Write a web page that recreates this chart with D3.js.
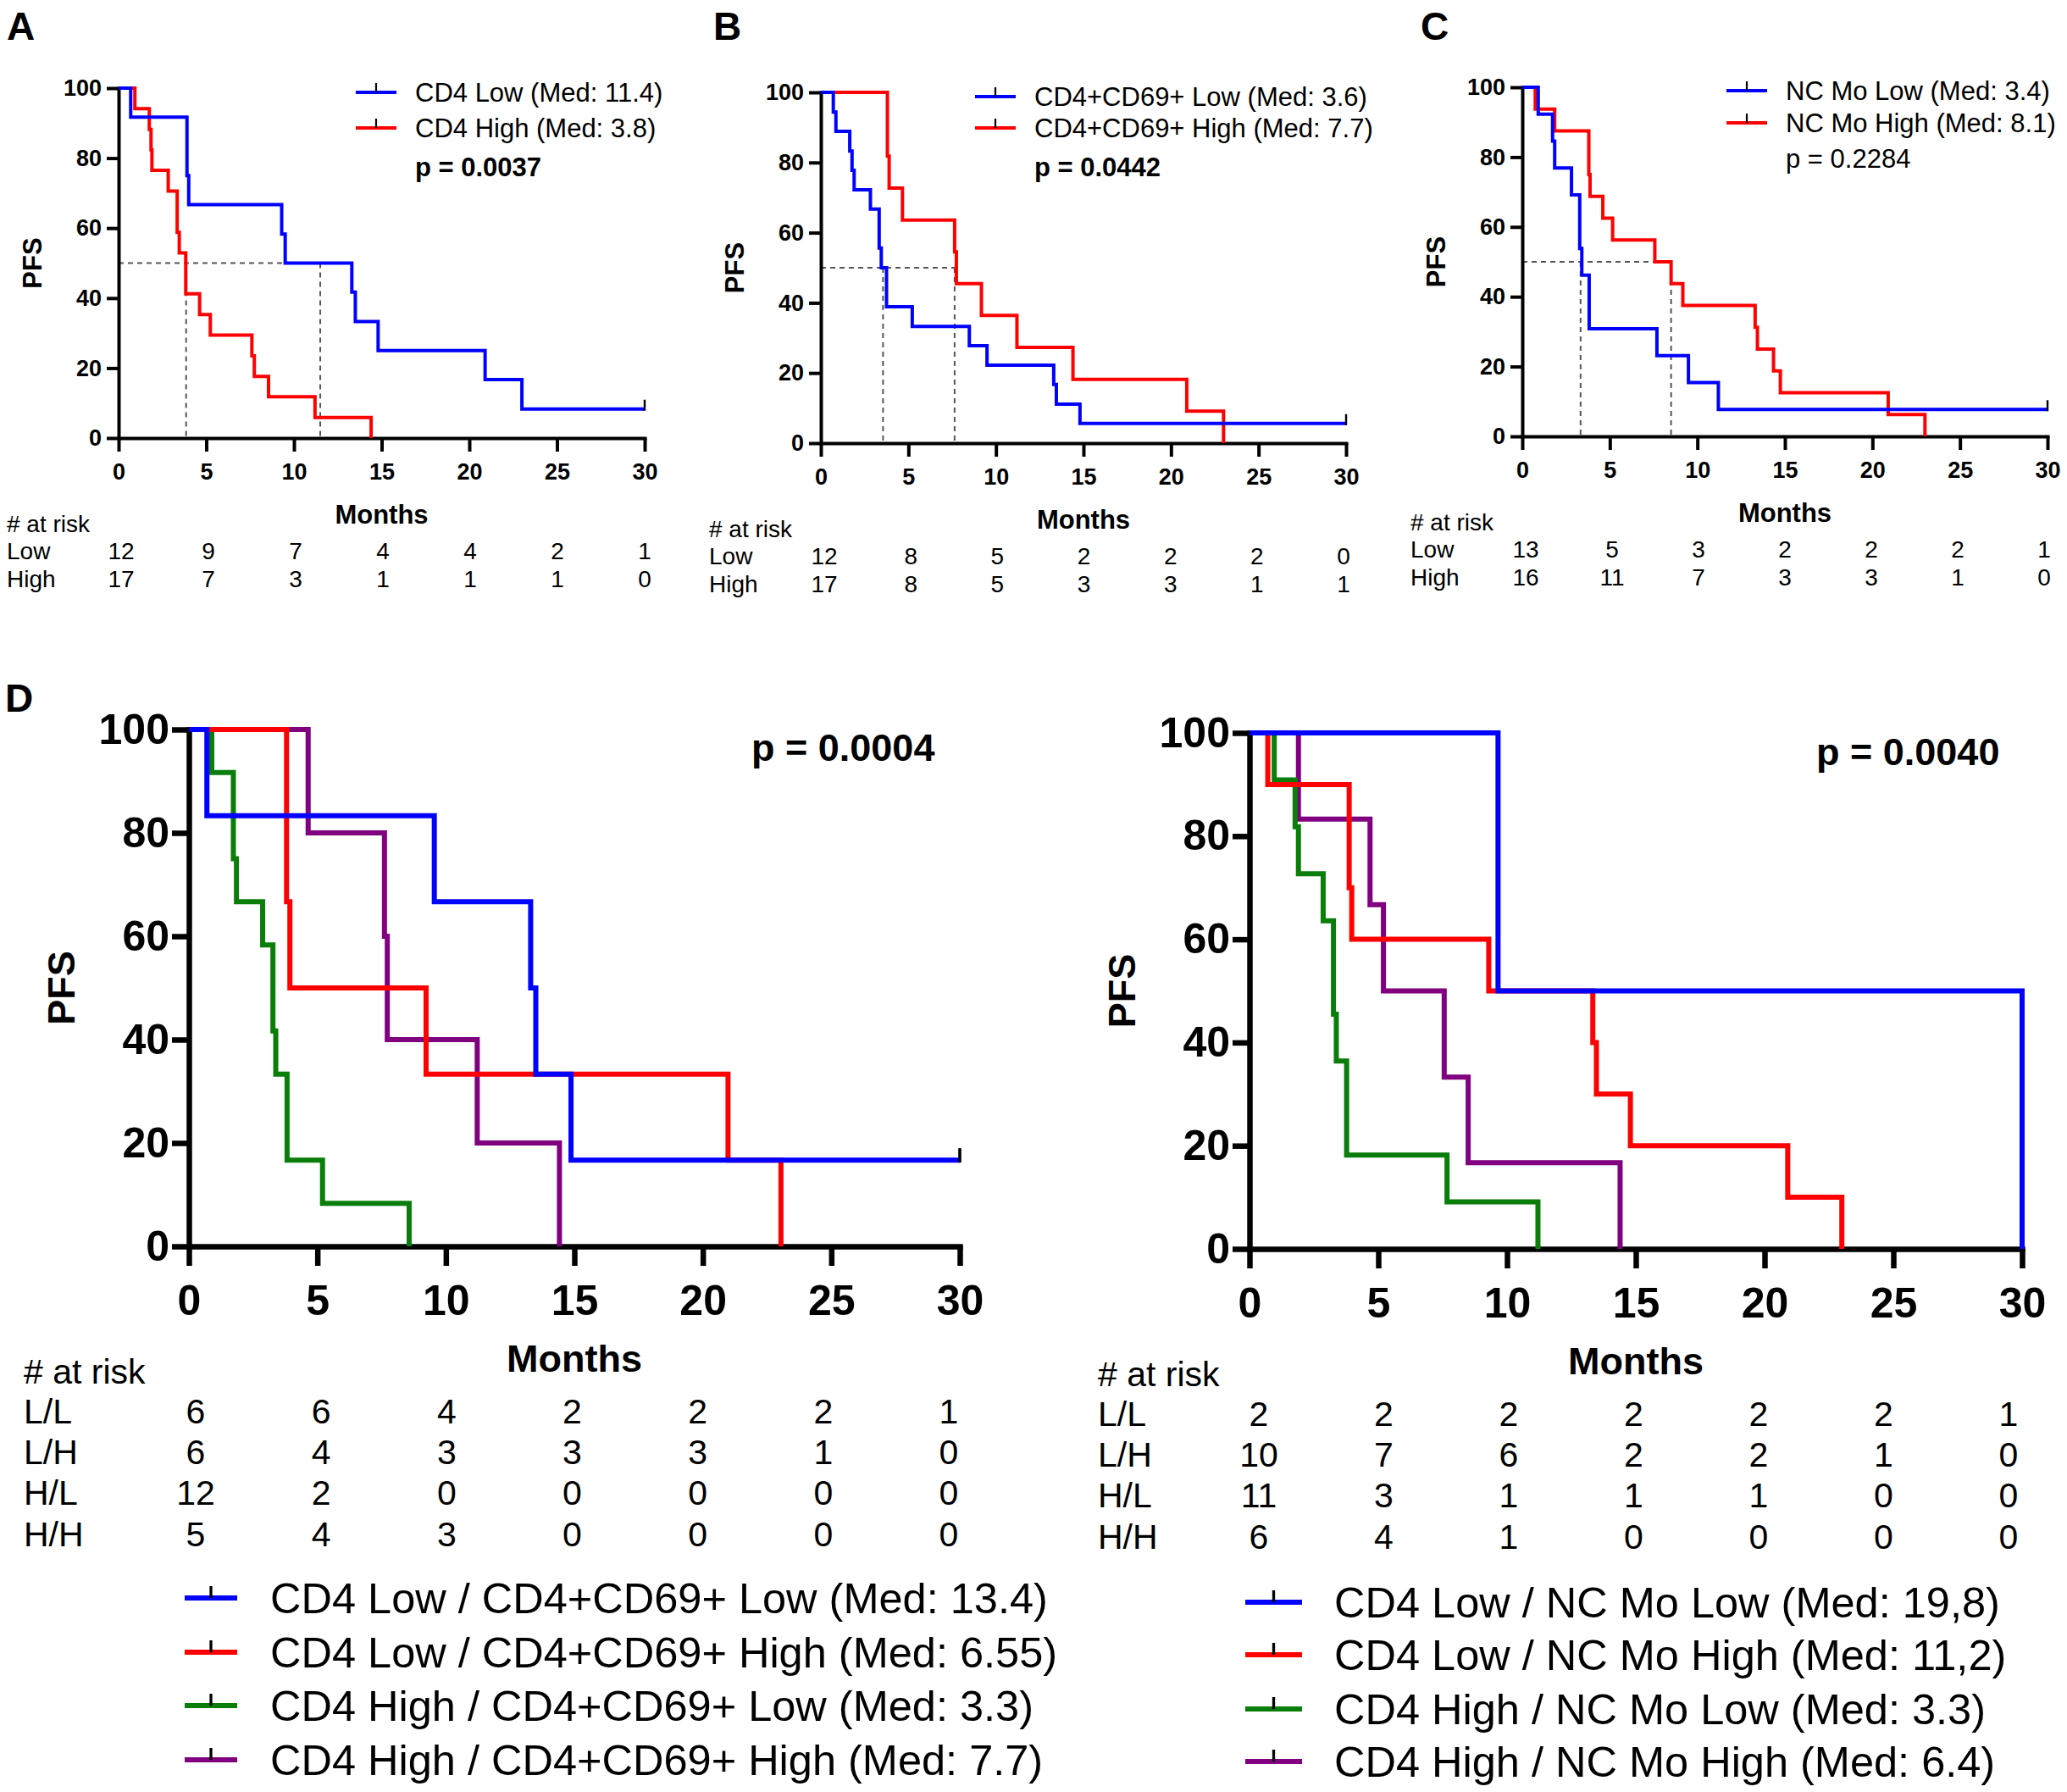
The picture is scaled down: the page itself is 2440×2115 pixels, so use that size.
<!DOCTYPE html>
<html>
<head>
<meta charset="utf-8">
<script src="https://cdn.jsdelivr.net/npm/d3@7"></script>
<style>
  body { margin: 0; background: #fff; }
  svg { display: block; }
  text { font-family: "Liberation Sans", Arial, Helvetica, sans-serif; fill: #000; }
</style>
</head>
<body>
<div id="fig"></div>
<script>
// PFS Kaplan-Meier panels A-D ([month, % PFS])

var monthTicks = [0, 5, 10, 15, 20, 25, 30];
var pfsTicks = [0, 20, 40, 60, 80, 100];

// A: CD4
var cd4Low = [[0,100],[0.69,91.7],[3.9,75],[4.0,66.7],[9.3,58.3],[9.5,50],[13.3,41.7],[13.5,33.3],[14.8,25],[20.9,16.7],[23.0,8.3],[30,8.3]];
var cd4High = [[0,100],[0.93,94.1],[1.75,88.2],[1.85,82.4],[1.9,76.5],[2.83,70.6],[3.34,58.8],[3.46,52.9],[3.83,41.2],[4.62,35.3],[5.23,29.4],[7.6,23.5],[7.74,17.6],[8.55,11.8],[11.2,5.9],[14.4,0]];
var cd4Medians = [3.85, 11.5];
var cd4RiskLow = [12, 9, 7, 4, 4, 2, 1];
var cd4RiskHigh = [17, 7, 3, 1, 1, 1, 0];

// B: CD4+CD69+
var cd69Low = [[0,100],[0.71,94.4],[0.86,88.9],[1.65,83.3],[1.78,77.8],[1.9,72.2],[2.83,66.7],[3.33,55.6],[3.45,50],[3.75,38.9],[5.22,33.3],[8.48,27.8],[9.49,22.2],[13.3,16.7],[13.45,11.1],[14.8,5.6],[30,5.6]];
var cd69High = [[0,100],[3.8,81.8],[3.9,72.7],[4.66,63.6],[7.64,54.5],[7.74,45.5],[9.17,36.4],[11.2,27.3],[14.4,18.2],[20.9,9.1],[23.0,0]];
var cd69Medians = [3.55, 7.64];
var cd69RiskLow = [12, 8, 5, 2, 2, 2, 0];
var cd69RiskHigh = [17, 8, 5, 3, 3, 1, 1];

// C: NC Mo
var ncmoLow = [[0,100],[0.91,92.3],[1.73,84.6],[1.85,76.9],[2.81,69.2],[3.28,53.8],[3.4,46.2],[3.82,30.8],[7.69,23.1],[9.49,15.4],[11.2,7.7],[30,7.7]];
var ncmoHigh = [[0,100],[0.74,93.75],[1.85,87.5],[3.8,75],[3.87,68.75],[4.6,62.5],[5.16,56.25],[7.57,50],[8.5,43.75],[9.17,37.5],[13.3,31.25],[13.43,25],[14.35,18.75],[14.74,12.5],[20.9,6.25],[23.0,0]];
var ncmoMedians = [3.33, 8.5];
var ncmoRiskLow = [13, 5, 3, 2, 2, 2, 1];
var ncmoRiskHigh = [16, 11, 7, 3, 3, 1, 0];

// D left: CD4 / CD4+CD69+
var dlLL = [[0,100],[0.7,83.3],[9.55,66.7],[13.3,50],[13.5,33.3],[14.87,16.7],[30,16.7]];
var dlLH = [[0,100],[3.8,66.7],[3.93,50],[9.23,33.3],[20.98,16.7],[23.04,0]];
var dlHL = [[0,100],[0.89,91.7],[1.73,75],[1.85,66.7],[2.87,58.3],[3.27,41.7],[3.38,33.3],[3.82,16.7],[5.2,8.3],[8.57,0]];
var dlHH = [[0,100],[4.64,80],[7.61,60],[7.72,40],[11.22,20],[14.42,0]];
var dlRisk = [[6,6,4,2,2,2,1],[6,4,3,3,3,1,0],[12,2,0,0,0,0,0],[5,4,3,0,0,0,0]];

// D right: CD4 / NC Mo
var drLL = [[0,100],[9.65,50],[30,0]];
var drLH = [[0,100],[0.71,90],[3.87,70],[3.97,60],[9.29,50],[13.33,40],[13.47,30],[14.79,20],[20.9,10],[23.0,0]];
var drHL = [[0,100],[0.96,90.9],[1.77,81.8],[1.9,72.7],[2.86,63.6],[3.26,45.5],[3.37,36.4],[3.77,18.2],[7.67,9.1],[11.2,0]];
var drHH = [[0,100],[1.9,83.3],[4.68,66.7],[5.2,50],[7.56,33.3],[8.49,16.7],[14.39,0]];
var drRisk = [[2,2,2,2,2,2,1],[10,7,6,2,2,1,0],[11,3,1,1,1,0,0],[6,4,1,0,0,0,0]];

var riskLabels2 = ['Low', 'High'];
var riskLabels4 = ['L/L', 'L/H', 'H/L', 'H/H'];

var BLUE = '#0000ff', RED = '#ff0000', GREEN = '#0a7d0a', PURPLE = '#800080';

var svg = d3.select('#fig').append('svg')
    .attr('width', 2440)
    .attr('height', 2115);

var small = {
    axisW: 4, curveW: 4, tick: 16, ytick: 14, xpad: 14, ypad: 6,
    tickFont: 27, titleFont: 31, riskFont: 28, legFont: 31, pFont: 31,
    monthsDy: 101, riskHeadDy: 111, riskRowDy: [143, 176], pfsDx: -102,
    riskDx: -132, censor: 11
};
var big = {
    axisW: 6.5, curveW: 6, tick: 23, ytick: 20, xpad: 22, ypad: 3,
    tickFont: 50, titleFont: 45, riskFont: 41, legFont: 50.5, pFont: 45,
    monthsDy: 148, riskHeadDy: 162, riskRowDy: [209, 257, 305, 354], pfsDx: -151,
    censor: 14
};

var panels = [
    { L: 140, R: 761, T: 104, B: 517, s: small, riskPad: [3, 0],
      series: [{d: cd4High, c: RED, name: 'CD4 High (Med: 3.8)'}, {d: cd4Low, c: BLUE, name: 'CD4 Low (Med: 11.4)'}],
      legendOrder: [1, 0], legX: 280, legY: [5, 47], pText: 'p = 0.0037', pBold: true, pY: 104,
      medians: cd4Medians, risk: [cd4RiskLow, cd4RiskHigh], riskLabels: riskLabels2 },
    { L: 969, R: 1589, T: 109, B: 523, s: small, riskPad: [4, -3],
      series: [{d: cd69High, c: RED, name: 'CD4+CD69+ High (Med: 7.7)'}, {d: cd69Low, c: BLUE, name: 'CD4+CD69+ Low (Med: 3.6)'}],
      legendOrder: [1, 0], legX: 182, legY: [5, 42], pText: 'p = 0.0442', pBold: true, pY: 99,
      medians: cd69Medians, risk: [cd69RiskLow, cd69RiskHigh], riskLabels: riskLabels2 },
    { L: 1797, R: 2417, T: 103, B: 515, s: small, riskPad: [4, -4],
      series: [{d: ncmoHigh, c: RED, name: 'NC Mo High (Med: 8.1)'}, {d: ncmoLow, c: BLUE, name: 'NC Mo Low (Med: 3.4)'}],
      legendOrder: [1, 0], legX: 241, legY: [4, 42], pText: 'p = 0.2284', pBold: false, pY: 95,
      medians: ncmoMedians, risk: [ncmoRiskLow, ncmoRiskHigh], riskLabels: riskLabels2 },
    { L: 223, R: 1133, T: 861, B: 1471, s: big, riskDx: -195, riskPad: [8, -13],
      series: [{d: dlHH, c: PURPLE, name: 'CD4 High / CD4+CD69+ High (Med: 7.7)'},
               {d: dlHL, c: GREEN, name: 'CD4 High / CD4+CD69+ Low (Med: 3.3)'},
               {d: dlLH, c: RED, name: 'CD4 Low / CD4+CD69+ High (Med: 6.55)'},
               {d: dlLL, c: BLUE, name: 'CD4 Low / CD4+CD69+ Low (Med: 13.4)'}],
      legendOrder: [3, 2, 1, 0], bigLegend: {x1: 218, x2: 280, tx: 319, rows: [1886, 1950, 2013, 2077]},
      pText: 'p = 0.0004', pBold: true, pX: 664, pY: 37,
      risk: dlRisk, riskLabels: riskLabels4 },
    { L: 1475, R: 2387, T: 865, B: 1474, s: big, riskDx: -179, riskPad: [11, -16],
      series: [{d: drHH, c: PURPLE, name: 'CD4 High / NC Mo High (Med: 6.4)'},
               {d: drHL, c: GREEN, name: 'CD4 High / NC Mo Low (Med: 3.3)'},
               {d: drLH, c: RED, name: 'CD4 Low / NC Mo High (Med: 11,2)'},
               {d: drLL, c: BLUE, name: 'CD4 Low / NC Mo Low (Med: 19,8)'}],
      legendOrder: [3, 2, 1, 0], bigLegend: {x1: 1470, x2: 1537, tx: 1575, rows: [1891, 1953, 2017, 2079]},
      pText: 'p = 0.0040', pBold: true, pX: 669, pY: 38,
      risk: drRisk, riskLabels: riskLabels4 }
];

function drawPanel(p) {
    var s = p.s;
    var x = d3.scaleLinear().domain([0, 30]).range([p.L, p.R]);
    var y = d3.scaleLinear().domain([0, 100]).range([p.B, p.T]);
    // the at-risk columns sit a little inside the outer ticks
    var xr = d3.scaleLinear().domain([0, 30]).range([p.L + p.riskPad[0], p.R + p.riskPad[1]]);
    var g = svg.append('g');

    // dashed median guides
    if (p.medians) {
        var mMax = d3.max(p.medians);
        g.append('line')
            .attr('x1', x(0)).attr('x2', x(mMax))
            .attr('y1', y(50)).attr('y2', y(50))
            .attr('stroke', '#555').attr('stroke-width', 2).attr('stroke-dasharray', '6,5');
        g.selectAll('line.med')
            .data(p.medians)
            .enter()
            .append('line')
            .attr('class', 'med')
            .attr('x1', function(d){ return x(d); })
            .attr('x2', function(d){ return x(d); })
            .attr('y1', y(50)).attr('y2', y(0))
            .attr('stroke', '#555').attr('stroke-width', 2).attr('stroke-dasharray', '6,5');
    }

    // axes
    var xAxis = g.append('g')
        .attr('transform', 'translate(0,' + p.B + ')')
        .call(d3.axisBottom(x).tickValues(monthTicks).tickSize(s.tick).tickPadding(s.xpad).tickSizeOuter(0));
    var yAxis = g.append('g')
        .attr('transform', 'translate(' + p.L + ',0)')
        .call(d3.axisLeft(y).tickValues(pfsTicks).tickSize(s.ytick).tickPadding(s.ypad).tickSizeOuter(0));
    [xAxis, yAxis].forEach(function(a){
        a.select('.domain').attr('stroke', '#000').attr('stroke-width', s.axisW).attr('stroke-linecap', 'square');
        a.selectAll('.tick line').attr('stroke', '#000').attr('stroke-width', s.axisW);
        a.selectAll('.tick text')
            .attr('font-size', s.tickFont)
            .attr('font-weight', 'bold')
            .attr('font-family', '"Liberation Sans", Arial, sans-serif')
            .attr('fill', '#000');
    });

    // survival curves
    var line = d3.line()
        .x(function(d){ return x(d[0]); })
        .y(function(d){ return y(d[1]); })
        .curve(d3.curveStepAfter);
    p.series.forEach(function(sr){
        g.append('path')
            .datum(sr.d)
            .attr('d', line)
            .attr('fill', 'none')
            .attr('stroke', sr.c)
            .attr('stroke-width', s.curveW);
        var last = sr.d[sr.d.length - 1];
        if (last[0] === 30 && last[1] > 0) {
            g.append('line')
                .attr('x1', x(30)).attr('x2', x(30))
                .attr('y1', y(last[1]) + s.curveW / 2).attr('y2', y(last[1]) - s.censor)
                .attr('stroke', '#000').attr('stroke-width', s.curveW * 0.6);
        }
    });

    // axis titles
    g.append('text')
        .attr('x', (p.L + p.R) / 2).attr('y', p.B + s.monthsDy)
        .attr('text-anchor', 'middle')
        .attr('font-size', s.titleFont).attr('font-weight', 'bold')
        .text('Months');
    g.append('text')
        .attr('transform', 'translate(' + (p.L + s.pfsDx + s.titleFont * 0.36) + ',' + ((p.T + p.B) / 2) + ') rotate(-90)')
        .attr('text-anchor', 'middle')
        .attr('font-size', s.titleFont).attr('font-weight', 'bold')
        .text('PFS');

    // number at risk table
    var rx = p.L + (p.riskDx !== undefined ? p.riskDx : s.riskDx);
    g.append('text')
        .attr('x', rx).attr('y', p.B + s.riskHeadDy)
        .attr('font-size', s.riskFont)
        .text('# at risk');
    p.risk.forEach(function(row, i){
        g.append('text')
            .attr('x', rx).attr('y', p.B + s.riskRowDy[i])
            .attr('font-size', s.riskFont)
            .text(p.riskLabels[i]);
        g.selectAll(null)
            .data(row)
            .enter()
            .append('text')
            .attr('x', function(d, j){ return xr(monthTicks[j]); })
            .attr('y', p.B + s.riskRowDy[i])
            .attr('text-anchor', 'middle')
            .attr('font-size', s.riskFont)
            .text(function(d){ return d; });
    });

    // legend
    p.legendOrder.forEach(function(si, k){
        var sr = p.series[si], x1, x2, tx, cy;
        if (p.bigLegend) {
            x1 = p.bigLegend.x1; x2 = p.bigLegend.x2; tx = p.bigLegend.tx; cy = p.bigLegend.rows[k];
        } else {
            x1 = p.L + p.legX; x2 = x1 + 48; tx = x2 + 22; cy = p.T + p.legY[k];
        }
        g.append('line')
            .attr('x1', x1).attr('x2', x2).attr('y1', cy).attr('y2', cy)
            .attr('stroke', sr.c).attr('stroke-width', s.curveW);
        g.append('line')
            .attr('x1', (x1 + x2) / 2).attr('x2', (x1 + x2) / 2)
            .attr('y1', cy).attr('y2', cy - s.censor)
            .attr('stroke', '#000').attr('stroke-width', s.curveW * 0.55);
        g.append('text')
            .attr('x', tx).attr('y', cy + s.legFont * 0.36)
            .attr('font-size', s.legFont)
            .text(sr.name);
    });

    // p value
    var px = p.pX !== undefined ? p.L + p.pX : p.L + p.legX + 70;
    g.append('text')
        .attr('x', px).attr('y', p.T + p.pY)
        .attr('font-size', s.pFont)
        .attr('font-weight', p.pBold ? 'bold' : 'normal')
        .text(p.pText);
}

panels.forEach(drawPanel);

// panel letters
var letters = [['A', 8, 47], ['B', 842, 47], ['C', 1677, 47], ['D', 6, 840]];
svg.selectAll('text.letter')
    .data(letters)
    .enter()
    .append('text')
    .attr('class', 'letter')
    .attr('x', function(d){ return d[1]; })
    .attr('y', function(d){ return d[2]; })
    .attr('font-size', 46)
    .attr('font-weight', 'bold')
    .text(function(d){ return d[0]; });
</script>
</body>
</html>
